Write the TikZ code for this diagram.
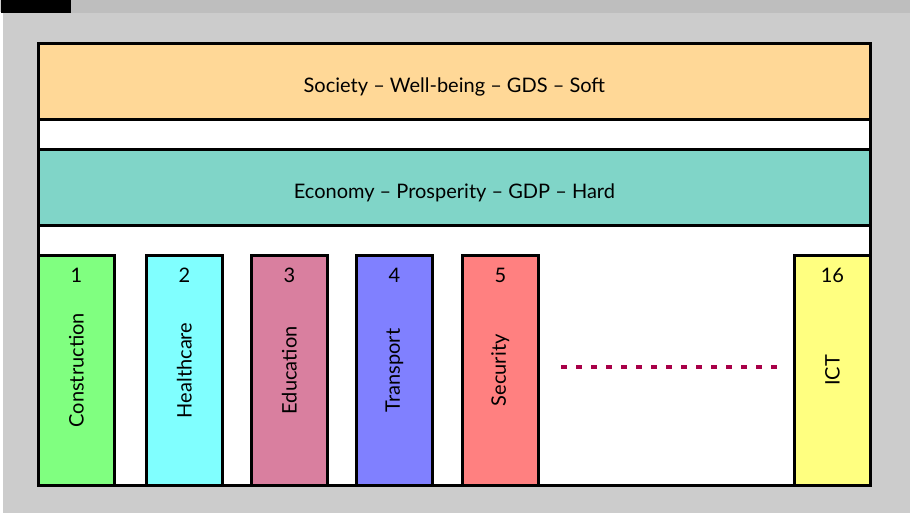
\documentclass[tikz,border=0pt]{standalone}
\usepackage{fontspec}
\setmainfont{Lato}
\definecolor{bggray}{HTML}{CCCCCC}
\definecolor{stripgray}{HTML}{BEBEBE}
\definecolor{socfill}{HTML}{FFD897}
\definecolor{ecofill}{HTML}{80D5C8}
\definecolor{cone}{HTML}{80FF80}
\definecolor{ctwo}{HTML}{80FFFF}
\definecolor{cthree}{HTML}{D97F9F}
\definecolor{cfour}{HTML}{8080FF}
\definecolor{cfive}{HTML}{FF8080}
\definecolor{csixteen}{HTML}{FFFF80}
\definecolor{dotred}{RGB}{168,0,72}
\tikzset{
  band/.style={draw=black, line width=2.7pt, anchor=north west, minimum width=832pt, minimum height=76pt, inner sep=0pt, text height=22pt, text depth=0pt, font=\fontsize{20}{22}\selectfont},
  pillar/.style={draw=black, line width=2.7pt, anchor=north west, minimum width=76pt, minimum height=230pt, inner sep=0pt},
  pnum/.style={font=\fontsize{20}{22}\selectfont, inner sep=0pt, anchor=base},
  plabel/.style={font=\fontsize{20}{22}\selectfont, rotate=90, inner sep=0pt},
  dotline/.style={draw=dotred, line width=4.2pt, dash pattern=on 5.7pt off 9.3pt}
}
\begin{document}
\begin{tikzpicture}[x=1pt,y=-1pt]
\useasboundingbox (0,0) rectangle (910,513);
\fill[bggray] (0,0) rectangle (910,513);
\fill[white] (0,12) rectangle (3,513);
\fill[stripgray] (71,0) rectangle (910,13);
\fill[black] (1,0) rectangle (71,13);
% frame
\node[draw=black, fill=white, line width=3pt, anchor=north west, minimum width=832pt, minimum height=442pt, inner sep=0pt] (frame) at (37,42) {};
% bands
\node[band, fill=socfill] (soc) at (37,42) {Society – Well-being – GDS – Soft};
\node[band, fill=ecofill] (eco) at (37,148) {Economy – Prosperity – GDP – Hard};
% pillars
\node[pillar, fill=cone] (p1) at (37,254) {};
\node[pillar, fill=ctwo] (p2) at (145,254) {};
\node[pillar, fill=cthree] (p3) at (250,254) {};
\node[pillar, fill=cfour] (p4) at (355,254) {};
\node[pillar, fill=cfive] (p5) at (461,254) {};
\node[pillar, fill=csixteen] (p16) at (793,254) {};
\foreach \p/\n/\l in {p1/1/Construction, p2/2/Healthcare, p3/3/Education, p4/4/Transport, p5/5/Security, p16/16/ICT}{
  \node[pnum] (\p num) at ([yshift=-28pt]\p.north) {\n};
  \node[plabel] (\p lab) at (\p.center) {\l};
}
\coordinate (d1) at (561,367);
\coordinate (d2) at (776.5,367);
\draw[dotline] (d1) -- (d2);
\end{tikzpicture}
\end{document}
